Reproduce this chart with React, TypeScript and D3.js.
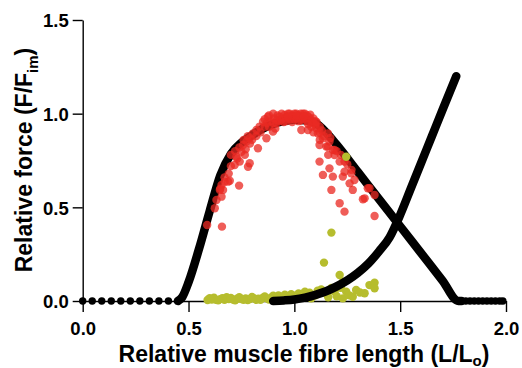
import { useEffect, useRef } from "react";
import * as d3 from "d3";

const W = 522;
const H = 368;

const xTicks = [0, 0.5, 1.0, 1.5, 2.0];
const yTicks = [0, 0.5, 1.0, 1.5];

// sparse model points lying on zero force
const flatLeftX = [0, 0.045, 0.09, 0.135, 0.18, 0.225, 0.27, 0.315, 0.36, 0.405];
const flatRightX = [1.79, 1.81, 1.83, 1.85, 1.87, 1.89, 1.91, 1.93, 1.95, 1.97, 1.985];

// active force-length model
const activeX = [0.45, 0.47, 0.5, 0.55, 0.6, 0.65, 0.7, 0.75, 0.8, 0.85, 0.9, 0.95, 1.0, 1.05, 1.1, 1.15, 1.2, 1.3, 1.4, 1.5, 1.6, 1.7, 1.775, 1.79];
const activeY = [0, 0.02, 0.1, 0.28, 0.48, 0.67, 0.785, 0.845, 0.885, 0.92, 0.945, 0.96, 0.968, 0.965, 0.95, 0.9, 0.834, 0.689, 0.544, 0.399, 0.254, 0.109, 0.0, 0.0];

// passive force-length model
const passiveX = [0.9, 0.95, 1.0, 1.05, 1.1, 1.15, 1.2, 1.25, 1.3, 1.35, 1.4, 1.45, 1.5, 1.55, 1.6, 1.65, 1.7, 1.765];
const passiveY = [0, 0.003, 0.008, 0.018, 0.033, 0.052, 0.078, 0.11, 0.15, 0.2, 0.265, 0.34, 0.46, 0.6, 0.74, 0.88, 1.02, 1.2];

// measured active force
const redPoints: [number, number][] = [
  [0.588, 0.406], [0.658, 0.397], [0.624, 0.495], [0.632, 0.539], [0.656, 0.557],
  [0.648, 0.593], [0.663, 0.593], [0.656, 0.619], [0.671, 0.637], [0.695, 0.642],
  [0.739, 0.616], [0.718, 0.726], [0.742, 0.744], [0.781, 0.717], [0.789, 0.735],
  [0.726, 0.77], [0.75, 0.797], [0.758, 0.833], [0.774, 0.851], [0.789, 0.869],
  [0.828, 0.815], [0.805, 0.895], [0.821, 0.913], [0.836, 0.931], [0.868, 0.869],
  [0.852, 0.957], [0.875, 0.984], [0.899, 0.904], [0.915, 0.949], [0.931, 0.984],
  [0.954, 0.993], [0.978, 1.0], [1.009, 1.0], [1.041, 1.0], [1.057, 0.975],
  [1.033, 0.913], [1.064, 0.913], [1.088, 0.949], [1.104, 0.922], [1.111, 0.895],
  [1.135, 0.869], [1.158, 0.895], [1.166, 0.851], [1.119, 0.833], [1.151, 0.824],
  [1.182, 0.806], [1.19, 0.779], [1.119, 0.744], [1.214, 0.744], [1.237, 0.744],
  [1.166, 0.708], [1.135, 0.673], [1.182, 0.664], [1.229, 0.664], [1.269, 0.682],
  [1.284, 0.646], [1.261, 0.628], [1.276, 0.593], [1.175, 0.593], [1.214, 0.522],
  [1.237, 0.477], [1.355, 0.602], [1.379, 0.566], [1.332, 0.548], [1.379, 0.454],
  [0.687, 0.637], [0.766, 0.78], [1.237, 0.69], [1.324, 0.543], [1.347, 0.602],
  [1.158, 0.824], [1.19, 0.806],
  [0.86, 0.97], [0.88, 0.99], [0.9, 1.0], [0.92, 0.99], [0.94, 1.0], [0.96, 0.98],
  [0.97, 1.0], [0.99, 0.99], [1.0, 1.0], [1.02, 0.99], [1.03, 1.0], [1.05, 1.0],
  [1.06, 0.99], [1.07, 0.98], [0.87, 0.95], [0.89, 0.96], [0.93, 0.96], [0.95, 0.955],
  [0.91, 0.92], [0.88, 0.93], [0.84, 0.9], [0.82, 0.88], [0.8, 0.86], [1.08, 0.93],
  [1.1, 0.96], [1.09, 0.9], [1.12, 0.93], [1.13, 0.91], [1.14, 0.88], [1.12, 0.86],
  [1.17, 0.87], [1.2, 0.8], [1.22, 0.78], [1.25, 0.73], [1.27, 0.7], [1.16, 0.78],
  [1.0, 0.97], [1.02, 0.96], [1.04, 0.97], [0.98, 0.97], [1.075, 0.995], [1.09, 0.975],
  [0.96, 0.96], [0.99, 0.955], [1.01, 0.975], [1.03, 0.965], [1.06, 0.96], [1.08, 0.965],
  [0.94, 0.97], [0.92, 0.965], [0.97, 0.985], [1.01, 0.99], [1.045, 0.985], [0.905, 0.975],
  [1.1, 0.94], [1.12, 0.9], [0.9, 0.95], [0.86, 0.93], [1.105, 0.955], [1.065, 0.945],
  [0.7, 0.78], [0.72, 0.8], [0.74, 0.82], [0.76, 0.86], [0.78, 0.88], [0.79, 0.84],
  [0.77, 0.81], [0.73, 0.76], [0.7, 0.72], [0.69, 0.68], [0.67, 0.66], [0.65, 0.6],
];

// measured passive force
const yellowPoints: [number, number][] = [
  [0.59, 0.005], [0.61, 0.008], [0.63, 0.006], [0.65, 0.01], [0.67, 0.007], [0.69, 0.01],
  [0.71, 0.008], [0.73, 0.012], [0.75, 0.01], [0.77, 0.013], [0.79, 0.011], [0.81, 0.014],
  [0.83, 0.012], [0.85, 0.016], [0.87, 0.014], [0.89, 0.018], [0.66, 0.015], [0.72, 0.004],
  [0.78, 0.005], [0.84, 0.006], [0.91, 0.02], [0.94, 0.022], [0.97, 0.025], [1.0, 0.027],
  [1.04, 0.032], [1.072, 0.044], [1.1, 0.03], [1.127, 0.062], [1.15, 0.04], [1.175, 0.07],
  [1.19, 0.05], [1.2, 0.025], [1.214, 0.139], [1.229, 0.103], [1.229, 0.014], [1.245, 0.05],
  [1.26, 0.03], [1.276, 0.023], [1.292, 0.059], [1.31, 0.045], [1.332, 0.041], [1.355, 0.085],
  [1.379, 0.098], [1.379, 0.068], [1.14, 0.205], [1.175, 0.365], [1.245, 0.77], [1.16, 0.02],
  [1.08, 0.015], [1.22, 0.07],
  [0.6, 0.015], [0.62, 0.018], [0.64, 0.004], [0.68, 0.02], [0.7, 0.016], [0.74, 0.02],
  [0.76, 0.006], [0.8, 0.022], [0.82, 0.006], [0.86, 0.024], [0.88, 0.008], [0.9, 0.028],
  [0.925, 0.03], [0.955, 0.034], [0.985, 0.036], [1.02, 0.04], [1.05, 0.05], [1.11, 0.055],
];

const FONT = "'Liberation Sans', Arial, Helvetica, sans-serif";

export default function App() {
  const ref = useRef<SVGSVGElement>(null);

  useEffect(() => {
    const svg = d3.select(ref.current);
    svg.selectAll("*").remove();

    const x = d3.scaleLinear().domain([0, 2]).range([82.7, 506]);
    const y = d3.scaleLinear().domain([0, 1.5]).range([301, 20]);

    // axes
    const gx = svg
      .append("g")
      .attr("transform", `translate(0,${y(0)})`)
      .call(d3.axisBottom(x).tickValues(xTicks).tickFormat(d3.format(".1f")).tickSize(11).tickSizeOuter(0));
    const gy = svg
      .append("g")
      .attr("transform", `translate(${x(0)},0)`)
      .call(d3.axisLeft(y).tickValues(yTicks).tickFormat(d3.format(".1f")).tickSize(10).tickSizeOuter(0));

    [gx, gy].forEach((g) => {
      g.select(".domain").attr("stroke", "#000").attr("stroke-width", 1.4);
      g.selectAll(".tick line").attr("stroke", "#000").attr("stroke-width", 1.4);
      g.selectAll(".tick text")
        .attr("fill", "#000")
        .attr("font-family", FONT)
        .attr("font-weight", "bold")
        .attr("font-size", "18.5px");
    });
    gx.selectAll(".tick text").attr("y", 34).attr("dy", 0);
    gy.selectAll(".tick text").attr("x", -14).attr("dy", "0.36em");

    // active model
    const line = d3
      .line<number>()
      .x((_, i) => x(activeX[i]))
      .y((_, i) => y(activeY[i]))
      .curve(d3.curveMonotoneX);
    svg
      .append("path")
      .attr("d", line(activeX))
      .attr("fill", "none")
      .attr("stroke", "#000")
      .attr("stroke-width", 8.5)
      .attr("stroke-linecap", "round")
      .attr("stroke-linejoin", "round");

    svg
      .append("g")
      .selectAll("circle")
      .data([...flatLeftX, ...flatRightX])
      .join("circle")
      .attr("cx", (d) => x(d))
      .attr("cy", y(0))
      .attr("r", 3.7)
      .attr("fill", "#000");

    // measured points
    svg
      .append("g")
      .selectAll("circle")
      .data(redPoints)
      .join("circle")
      .attr("cx", (d) => x(d[0]))
      .attr("cy", (d) => y(d[1]))
      .attr("r", 4.2)
      .attr("fill", "#ea2a24")
      .attr("fill-opacity", 0.76);

    svg
      .append("g")
      .selectAll("circle")
      .data(yellowPoints)
      .join("circle")
      .attr("cx", (d) => x(d[0]))
      .attr("cy", (d) => y(d[1]))
      .attr("r", 4.2)
      .attr("fill", "#b6bd2e");

    // passive model
    const pline = d3
      .line<number>()
      .x((_, i) => x(passiveX[i]))
      .y((_, i) => y(passiveY[i]))
      .curve(d3.curveMonotoneX);
    svg
      .append("path")
      .attr("d", pline(passiveX))
      .attr("fill", "none")
      .attr("stroke", "#000")
      .attr("stroke-width", 8.5)
      .attr("stroke-linecap", "round")
      .attr("stroke-linejoin", "round");

    // titles
    const xt = svg
      .append("text")
      .attr("x", 304)
      .attr("y", 362)
      .attr("text-anchor", "middle")
      .attr("font-family", FONT)
      .attr("font-weight", "bold")
      .attr("font-size", "23px")
      .attr("fill", "#000");
    xt.append("tspan").text("Relative muscle fibre length (L/L");
    xt.append("tspan").attr("font-size", "15px").attr("dy", 4).text("o");
    xt.append("tspan").attr("dy", -4).text(")");

    const yt = svg
      .append("text")
      .attr("transform", "translate(32,160) rotate(-90)")
      .attr("text-anchor", "middle")
      .attr("font-family", FONT)
      .attr("font-weight", "bold")
      .attr("font-size", "23px")
      .attr("fill", "#000");
    yt.append("tspan").text("Relative force (F/F");
    yt.append("tspan").attr("font-size", "15px").attr("dy", 6).text("im");
    yt.append("tspan").attr("dy", -6).text(")");
  }, []);

  return (
    <svg
      ref={ref}
      width={W}
      height={H}
      style={{ position: "absolute", left: 0, top: 0, background: "#fff" }}
    />
  );
}
